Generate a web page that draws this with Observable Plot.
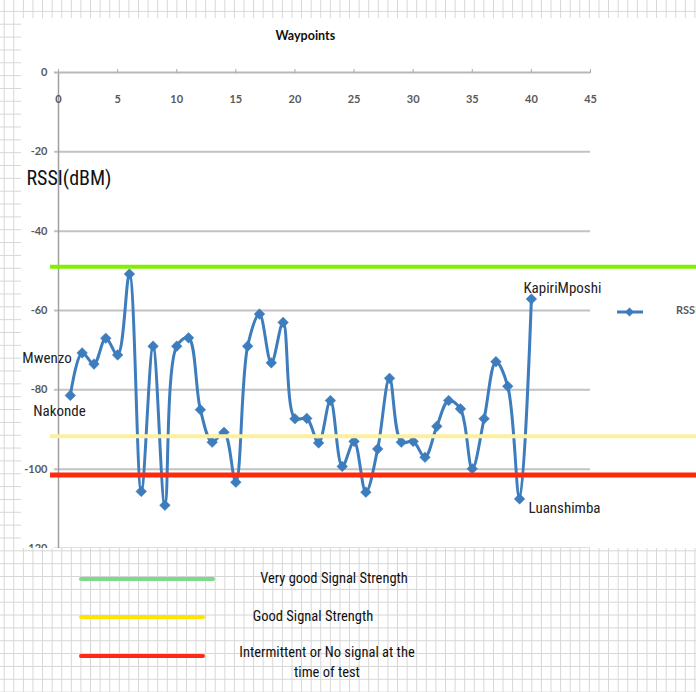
<!DOCTYPE html>
<html>
<head>
<meta charset="utf-8">
<script src="https://cdn.jsdelivr.net/npm/d3@7"></script>
<script src="https://cdn.jsdelivr.net/npm/@observablehq/plot@0.6"></script>
<style>
  html, body { margin: 0; padding: 0; }
  #page {
    position: relative; width: 696px; height: 692px; overflow: hidden;
    background-color: #fff;
    background-image: linear-gradient(to right, #d6d6d6 1px, transparent 1px),
                      linear-gradient(to bottom, #d6d6d6 1px, transparent 1px);
    background-size: 9.6px 12.85px;
    background-position: 3.7px 10.9px;
  }
  #panel { position: absolute; left: 21px; top: 18px; width: 675px; height: 530px; background: #fff; overflow: hidden; }
  .narrow { font-family: "Liberation Sans Narrow", "Arial Narrow", "Roboto Condensed", "Liberation Sans", sans-serif; }
  .lg-line { position: absolute; height: 4px; border-radius: 2px; }
  .lg-text { position: absolute; transform: translate(-50%, -50%); text-align: center; font-size: 14.5px; line-height: 20px; color: #111; white-space: nowrap; }
  #serieslegend { position: absolute; left: 617px; top: 304px; }
  #serieslabel { position: absolute; left: 676px; top: 303px; font: bold 11px Lato, "Open Sans", sans-serif; color: #595959; white-space: nowrap; }
</style>
</head>
<body>
<div id="page">
  <div id="panel"></div>
  <div id="serieslegend"></div>
  <div id="serieslabel"></div>
  <div id="legend"></div>
</div>
<script>
// ---- data ----
const waypoints = [1, 2, 3, 4, 5, 6, 7, 8, 9, 10, 11, 12, 13, 14, 15, 16, 17, 18, 19, 20,
                   21, 22, 23, 24, 25, 26, 27, 28, 29, 30, 31, 32, 33, 34, 35, 36, 37, 38, 39, 40];
const rssi = [-81.4, -70.7, -73.5, -67.0, -71.2, -50.8, -105.6, -69.0, -109.1, -69.0,
              -66.9, -85.0, -93.2, -90.7, -103.3, -69.0, -60.9, -73.2, -63.0, -87.3,
              -87.2, -93.4, -82.7, -99.3, -93.0, -105.8, -94.9, -77.1, -93.2, -93.0,
              -97.0, -89.2, -82.7, -84.8, -99.9, -87.3, -72.9, -79.1, -107.5, -57.1];
const xTicks = [0, 5, 10, 15, 20, 25, 30, 35, 40, 45];
const yTicks = [0, -20, -40, -60, -80, -100, -120];
const yGridTicks = [-20, -40, -60, -80, -100, -120];
const thresholdNames = ["Very good Signal Strength", "Good Signal Strength", "Intermittent or No signal at the\ntime of test"];
const thresholdValues = [-49, -91.7, -101.5];
const placeNames = ["Nakonde", "Mwenzo", "Luanshimba", "KapiriMposhi"];
const placeWaypoints = [1, 1, 39, 40];
const seriesName = "RSSI";
const xTitle = "Waypoints";
const yTitle = "RSSI(dBM)";

// ---- styles ----
const blue = "#3e7dbd";
const chartColors = ["#80f000", "#fcef9e", "#ff2a0c"];
const chartWidths = [4, 4, 5];
const legendColors = ["#7fd98c", "#ffe400", "#ff2a14"];
const tickFont = "Lato, 'Open Sans', sans-serif";
const narrowFont = "'Liberation Sans Narrow', 'Arial Narrow', 'Roboto Condensed', 'Liberation Sans', sans-serif";

const data = waypoints.map((w, i) => ({w, rssi: rssi[i]}));
const places = placeNames.map((name, i) => ({name, w: placeWaypoints[i], rssi: rssi[waypoints.indexOf(placeWaypoints[i])]}));
const placeOffsets = [[-37, 16], [-48, -37], [9, 9], [-8, -11]];

const chart = Plot.plot({
  width: 675, height: 530,
  marginLeft: 37, marginRight: 106, marginTop: 54, marginBottom: 0,
  x: {domain: [0, 45], axis: null},
  y: {domain: [-120, 0], axis: null},
  style: {background: "white", overflow: "hidden"},
  marks: [
    Plot.gridY(yGridTicks, {stroke: "#c2c2c2", strokeOpacity: 1, strokeWidth: 2, insetLeft: -4}),
    Plot.ruleX([0], {stroke: "#a0a0a0", strokeWidth: 1.5}),
    Plot.ruleY([0], {stroke: "#b8b8b8", strokeWidth: 2, insetLeft: -4}),
    Plot.axisX({ticks: xTicks, anchor: "top", tickSize: 4, tickFormat: () => "", label: null, color: "#a8a8a8"}),
    Plot.text(xTicks, {x: d => d, frameAnchor: "top", dy: 23, text: d => String(d),
      fill: "#595959", fontSize: 11, fontWeight: "bold", fontFamily: tickFont}),
    Plot.axisY({ticks: yTicks, anchor: "left", tickSize: 0, tickPadding: 11, tickFormat: d => String(d), label: null,
      color: "#595959", fontSize: 11, fontWeight: "bold", fontFamily: tickFont}),
    Plot.line(data, {x: "w", y: "rssi", curve: "catmull-rom", stroke: blue, strokeWidth: 3}),
    Plot.dot(data, {x: "w", y: "rssi", symbol: "diamond2", r: 4.8, fill: blue, stroke: blue, strokeWidth: 0.5}),
    ...thresholdValues.map((v, i) => Plot.ruleY([v], {stroke: chartColors[i], strokeWidth: chartWidths[i], insetLeft: -8, insetRight: -106})),
    ...places.map((p, i) => Plot.text([p], {x: "w", y: "rssi", text: "name", textAnchor: "start",
      dx: placeOffsets[i][0], dy: placeOffsets[i][1], fontSize: 15, fill: "#222", fontFamily: narrowFont})),
    Plot.text([xTitle], {frameAnchor: "top-left", dx: 217, dy: -41, text: d => d,
      fontWeight: "bold", fontSize: 12.5, fill: "#111", fontFamily: tickFont}),
    Plot.text([yTitle], {frameAnchor: "top-left", dx: -32, dy: 98, text: d => d, textAnchor: "start",
      fontSize: 20, fill: "#111", fontFamily: narrowFont})
  ]
});
document.getElementById("panel").appendChild(chart);

// series legend (inside chart area)
document.getElementById("serieslegend").innerHTML =
  `<svg width="27" height="12"><line x1="0" y1="6" x2="26" y2="6" stroke="${blue}" stroke-width="3"/>` +
  `<path d="M12.5,1.5 L17,6 L12.5,10.5 L8,6 Z" fill="${blue}"/></svg>`;
document.getElementById("serieslabel").textContent = seriesName;

// threshold legend (below chart)
const legend = document.getElementById("legend");
const lineSpans = [[79, 136], [79, 126], [79, 126]];
const lineY = [579, 617, 656];
const textPos = [[334, 579], [313, 617], [327, 663]];
thresholdNames.forEach((name, i) => {
  const l = document.createElement("div");
  l.className = "lg-line";
  l.style.left = lineSpans[i][0] + "px";
  l.style.width = lineSpans[i][1] + "px";
  l.style.top = (lineY[i] - 2) + "px";
  l.style.background = legendColors[i];
  legend.appendChild(l);
  const t = document.createElement("div");
  t.className = "lg-text narrow";
  t.style.left = textPos[i][0] + "px";
  t.style.top = textPos[i][1] + "px";
  t.innerHTML = name.split("\n").join("<br>");
  legend.appendChild(t);
});
</script>
</body>
</html>
